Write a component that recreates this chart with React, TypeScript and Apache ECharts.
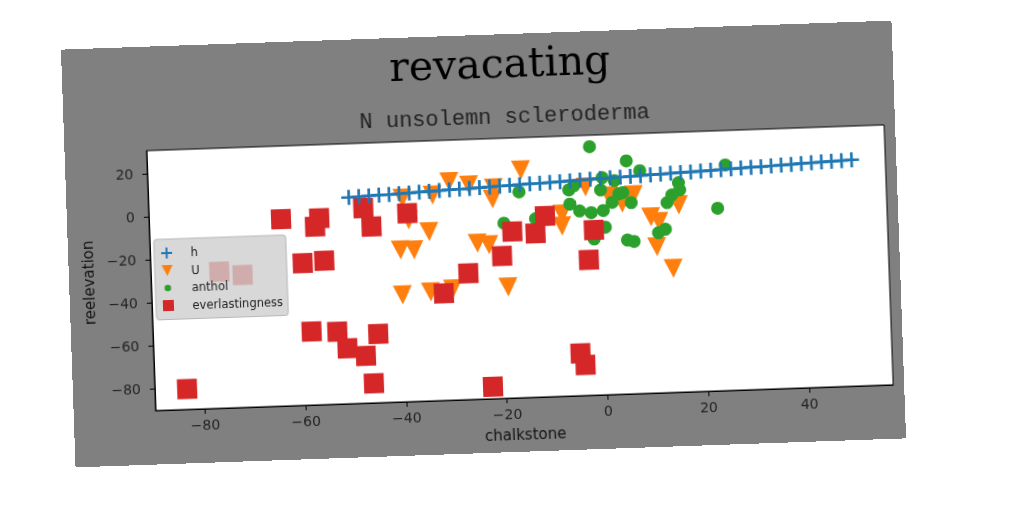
import { useEffect, useRef } from 'react'
import * as echarts from 'echarts'

// axis limits and tick labels
const xLimits = [-89.8, 56.7]
const yLimits = [-90.1, 30.8]
const xTicks = [-80, -60, -40, -20, 0, 20, 40]
const yTicks = [-80, -60, -40, -20, 0, 20]

// series "h": line with + markers
const hX = [
  -50, -48, -46, -44, -42, -40, -38, -36, -34, -32, -30, -28, -26, -24, -22, -20, -18,
  -16, -14, -12, -10, -8, -6, -4, -2, 0, 2, 4, 6, 8, 10, 12, 14, 16, 18, 20, 22, 24, 26,
  28, 30, 32, 34, 36, 38, 40, 42, 44, 46, 48, 50,
]
const hY = [
  5.8, 6.0, 6.2, 6.4, 6.5, 6.7, 6.9, 7.1, 7.3, 7.5, 7.7, 7.9, 8.0, 8.2, 8.4, 8.6, 8.8,
  9.0, 9.2, 9.3, 9.5, 9.7, 9.9, 10.1, 10.3, 10.5, 10.7, 10.8, 11.0, 11.2, 11.4, 11.6, 11.8,
  12.0, 12.1, 12.3, 12.5, 12.7, 12.9, 13.1, 13.3, 13.4, 13.6, 13.8, 14.0, 14.2, 14.4, 14.6,
  14.7, 14.9, 15.1,
]

// series "U": downward triangles
const uPoints = [
  [-39.4, 4.6], [-33.4, 5.6], [-30.0, 11.5], [-26.1, 9.7], [-21.2, 7.9], [-21.5, 2.8],
  [-15.7, 15.8], [-38.3, -5.6], [-34.3, -11.4], [-40.1, -19.4], [-37.4, -19.6],
  [-24.8, -17.6], [-22.5, -18.5], [-40.0, -40.4], [-34.4, -39.4], [-30.0, -38.4],
  [-19.0, -38.4], [-3.0, 6.9], [-7.8, -5.3], [-7.9, -10.9], [1.6, 2.3], [4.2, -1.3],
  [6.5, 2.4], [15.4, -3.0], [9.8, -8.2], [11.4, -10.5], [10.8, -22.1], [13.9, -32.4],
]

// series "anthol": circles
const anthol = [
  [-1.9, 25.5], [5.3, 18.3], [7.9, 13.5], [24.9, 14.8], [-16.2, 5.6], [-6.3, 5.7],
  [-5.3, 7.5], [0.4, 10.9], [2.8, 9.3], [0.0, 5.2], [3.6, 3.1], [4.4, 3.6], [2.2, -0.8],
  [6.0, -1.2], [-6.2, -0.9], [-4.3, -4.2], [-2.0, -5.2], [0.4, -4.4], [15.5, 7.3],
  [15.7, 3.9], [14.1, 1.7], [13.1, -1.8], [23.1, -5.2], [-19.4, -8.7], [-13.1, -7.1],
  [0.7, -12.2], [-1.6, -17.5], [5.0, -18.5], [6.3, -19.3], [11.2, -15.6], [12.6, -14.1],
]

// series "everlastingness": squares
const everlastingness = [
  [-83.4, -80.6], [-63.6, -3.2], [-56.9, -7.2], [-56.0, -3.4], [-47.2, 0.6], [-45.7, -8.1],
  [-38.5, -2.5], [-59.6, -24.0], [-55.3, -23.2], [-76.2, -26.6], [-71.6, -28.5],
  [-31.8, -40.3], [-26.8, -31.4], [-20.0, -23.9], [-17.8, -12.7], [-13.2, -13.9],
  [-11.2, -6.0], [-1.6, -13.3], [-2.8, -27.1], [-58.3, -55.9], [-53.2, -56.4],
  [-51.3, -64.3], [-47.7, -68.1], [-45.1, -58.1], [-46.3, -81.0], [-22.7, -84.5],
  [-5.1, -70.4], [-4.2, -75.9],
]

const PLUS = 'path://M4.1,0h1.8v10h-1.8zM0,4.1h10v1.8h-10z'
const TRI_DOWN = 'path://M0,0L10,0L5,10z'
const SQUARE = 'path://M0,0h10v10h-10z'
const SMALL_DOT =
  'path://M0,0h0.05v0.05h-0.05zM10,10h-0.05v-0.05h0.05zM2,5a3,3 0 1 0 6,0a3,3 0 1 0 -6,0z'

const tickText = (v: number) => (v < 0 ? '\u2212' + Math.abs(v) : String(v))

export default function App() {
  const chartRef = useRef<HTMLDivElement | null>(null)

  useEffect(() => {
    if (!chartRef.current) {
      return
    }

    const chart = echarts.init(chartRef.current, null, { renderer: 'svg' })
    chart.setOption({
      animation: false,
      backgroundColor: '#808080',
      textStyle: { fontFamily: 'DejaVu Sans' },
      title: [
        {
          text: 'revacating',
          left: 438,
          top: 8,
          padding: 0,
          textAlign: 'center',
          textStyle: { fontFamily: 'DejaVu Serif', fontSize: 41, fontWeight: 'normal', color: '#000' },
        },
        {
          text: 'N unsolemn scleroderma',
          left: 441,
          top: 72,
          padding: 0,
          textAlign: 'center',
          textStyle: { fontFamily: 'Liberation Mono', fontSize: 22, fontWeight: 'normal', color: '#222' },
        },
      ],
      grid: {
        left: 82,
        top: 104,
        right: 11,
        bottom: 54,
        show: true,
        backgroundColor: '#ffffff',
        borderColor: '#000',
        borderWidth: 1,
      },
      legend: {
        left: 86,
        top: 193,
        orient: 'vertical',
        itemWidth: 30,
        itemHeight: 11,
        itemGap: 5.5,
        padding: [8, 5, 8, 7],
        backgroundColor: 'rgba(206,206,206,0.8)',
        borderColor: '#b8b8b8',
        borderWidth: 1,
        borderRadius: 3,
        selectedMode: false,
        textStyle: { fontFamily: 'DejaVu Sans', fontSize: 11.5, color: '#222', padding: [0, 0, 0, 4] },
        data: [
          { name: 'h', icon: PLUS },
          { name: 'U', icon: TRI_DOWN },
          { name: 'anthol', icon: SMALL_DOT },
          { name: 'everlastingness', icon: SQUARE },
        ],
      },
      xAxis: {
        type: 'value',
        min: xLimits[0],
        max: xLimits[1],
        name: 'chalkstone',
        nameLocation: 'middle',
        nameGap: 29,
        nameTextStyle: { fontSize: 15, color: '#111' },
        splitLine: { show: false },
        axisLine: { show: true, onZero: false, lineStyle: { color: '#000', width: 1 } },
        axisTick: { show: true, length: 5, customValues: xTicks, lineStyle: { color: '#000' } },
        axisLabel: { customValues: xTicks, margin: 9, fontSize: 14, color: '#222', formatter: tickText },
      },
      yAxis: {
        type: 'value',
        min: yLimits[0],
        max: yLimits[1],
        name: 'reelevation',
        nameLocation: 'middle',
        nameGap: 52,
        nameTextStyle: { fontSize: 15, color: '#111' },
        splitLine: { show: false },
        axisLine: { show: true, onZero: false, lineStyle: { color: '#000', width: 1 } },
        axisTick: { show: true, length: 5, customValues: yTicks, lineStyle: { color: '#000' } },
        axisLabel: { customValues: yTicks, margin: 14, fontSize: 14, color: '#222', formatter: tickText },
      },
      series: [
        {
          name: 'h',
          type: 'line',
          data: hX.map((x, i) => [x, hY[i]]),
          symbol: PLUS,
          symbolSize: 15,
          showAllSymbol: true,
          itemStyle: { color: '#1f77b4' },
          lineStyle: { color: '#1f77b4', width: 2.2 },
        },
        {
          name: 'U',
          type: 'scatter',
          data: uPoints,
          symbol: TRI_DOWN,
          symbolSize: 19,
          itemStyle: { color: '#ff7f0e', opacity: 1 },
        },
        {
          name: 'anthol',
          type: 'scatter',
          data: anthol,
          symbol: 'circle',
          symbolSize: 13,
          itemStyle: { color: '#2ca02c', opacity: 1 },
        },
        {
          name: 'everlastingness',
          type: 'scatter',
          data: everlastingness,
          symbol: 'rect',
          symbolSize: 20,
          itemStyle: { color: '#d62728', opacity: 1 },
        },
      ],
    })

    return () => {
      chart.dispose()
    }
  }, [])

  return (
    <div
      ref={chartRef}
      style={{
        position: 'fixed',
        left: 68,
        top: 35,
        width: 831,
        height: 418,
        transform: 'rotate(-2deg)',
      }}
    />
  )
}
